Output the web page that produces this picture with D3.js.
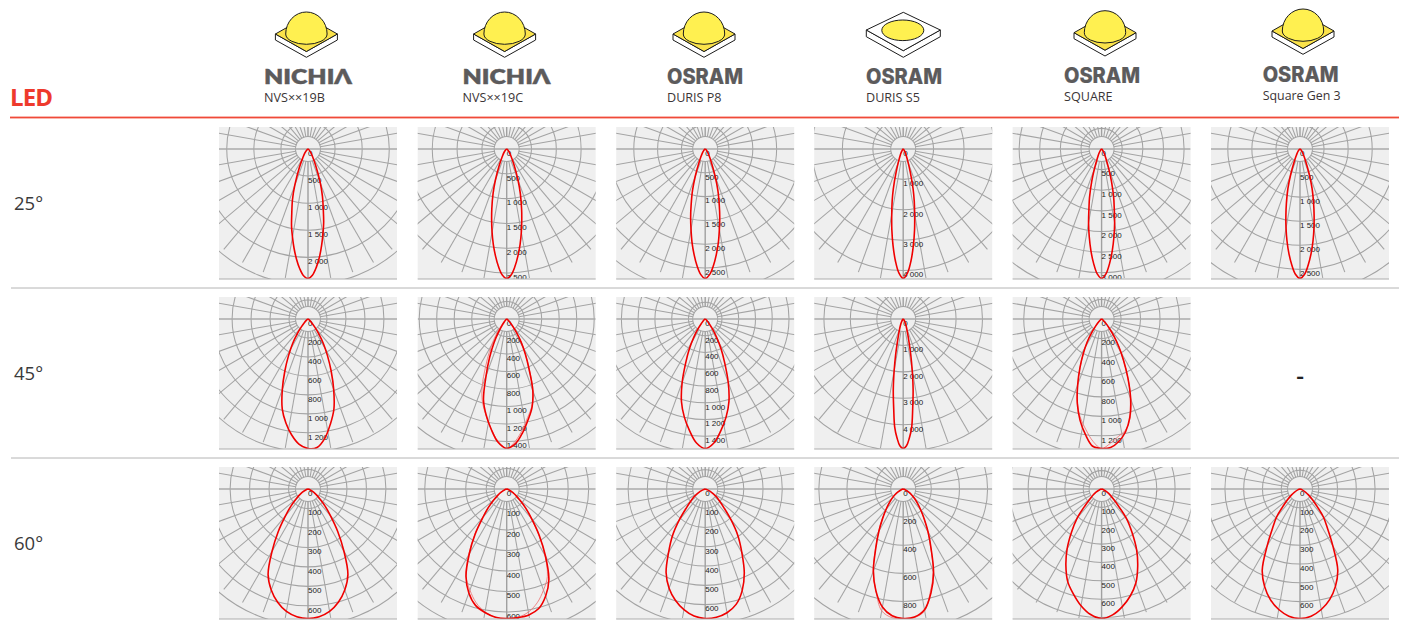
<!DOCTYPE html>
<html>
<head>
<meta charset="utf-8">
<script src="https://cdn.jsdelivr.net/npm/d3@7"></script>
<style>
  html, body { margin: 0; background: #fff; overflow: hidden; }
  svg { display: block; }
</style>
</head>
<body>
<script>
const brands = ['NICHIΛ', 'NICHIΛ', 'OSRAM', 'OSRAM', 'OSRAM', 'OSRAM'];
const models = ['NVS××19B', 'NVS××19C', 'DURIS P8', 'DURIS S5', 'SQUARE', 'Square Gen 3'];
const rowLabels = ['25°', '45°', '60°'];

// angles in degrees from the downward axis, intensities in cd
const angles25 = [0, 2, 4, 6, 8, 10, 12, 14, 17, 20, 25, 30, 40, 60, 90];
const angles45 = [0, 4, 8, 12, 16, 20, 24, 28, 32, 36, 40, 45, 50, 60, 75];
const angles45s5 = [0, 1.5, 3, 4.5, 6, 8, 10, 12, 14, 16, 20, 25, 30, 40, 60, 90];
const angles60 = [0, 5, 10, 15, 20, 25, 30, 35, 40, 45, 50, 55, 60, 70, 90];

const ticks25 = [
  [0, 500, 1000, 1500, 2000],
  [0, 500, 1000, 1500, 2000, 2500],
  [0, 500, 1000, 1500, 2000, 2500],
  [0, 1000, 2000, 3000, 4000],
  [0, 500, 1000, 1500, 2000, 2500, 3000],
  [0, 500, 1000, 1500, 2000, 2500]
];
const ticks45 = [
  [0, 200, 400, 600, 800, 1000, 1200],
  [0, 200, 400, 600, 800, 1000, 1200, 1400],
  [0, 200, 400, 600, 800, 1000, 1200, 1400],
  [0, 1000, 2000, 3000, 4000],
  [0, 200, 400, 600, 800, 1000, 1200]
];
const ticks60 = [
  [0, 100, 200, 300, 400, 500, 600],
  [0, 100, 200, 300, 400, 500, 600],
  [0, 100, 200, 300, 400, 500, 600],
  [0, 200, 400, 600, 800],
  [0, 100, 200, 300, 400, 500, 600],
  [0, 100, 200, 300, 400, 500, 600]
];

const right25 = [
  [2390, 2330, 2190, 2010, 1800, 1590, 1390, 1170, 910, 660, 335, 180, 70, 10, 0],
  [2610, 2540, 2375, 2165, 1940, 1700, 1460, 1240, 940, 665, 340, 185, 73, 10, 0],
  [2720, 2640, 2460, 2230, 1985, 1715, 1470, 1225, 910, 610, 300, 165, 65, 8, 0],
  [4260, 4080, 3685, 3195, 2685, 2170, 1745, 1340, 790, 470, 235, 130, 45, 8, 0],
  [3140, 3030, 2780, 2480, 2150, 1820, 1475, 1210, 815, 500, 235, 140, 50, 6, 0],
  [2690, 2610, 2420, 2190, 1935, 1670, 1410, 1170, 860, 565, 270, 150, 60, 8, 0]
];
const left25 = [
  [2390, 2340, 2210, 2040, 1850, 1650, 1460, 1240, 980, 715, 380, 200, 85, 12, 0],
  right25[1],
  right25[2],
  right25[3],
  right25[4],
  right25[5]
];

const right45 = [
  [1365, 1358, 1270, 1133, 990, 792, 600, 437, 307, 191, 109, 55, 27, 8, 0],
  [1480, 1428, 1310, 1177, 1050, 873, 629, 451, 311, 192, 104, 52, 27, 7, 0],
  [1545, 1483, 1344, 1197, 1027, 803, 572, 402, 255, 147, 77, 34, 19, 5, 0],
  [4900, 4800, 4500, 4100, 3430, 2695, 1960, 1372, 931, 662, 392, 220, 122, 49, 10, 0],
  [1330, 1323, 1270, 1184, 1051, 871, 665, 479, 333, 213, 120, 60, 27, 8, 0]
];
const left45 = [
  [1365, 1325, 1235, 1120, 985, 792, 600, 437, 307, 191, 109, 55, 27, 8, 0],
  [1480, 1413, 1273, 1125, 962, 688, 481, 311, 178, 89, 44, 22, 12, 3, 0],
  right45[2],
  right45[3],
  [1330, 1310, 1197, 1064, 904, 718, 545, 399, 279, 173, 93, 47, 20, 5, 0]
];
// the second, fainter plane where it can be told apart from the first
const thinRight45 = [
  null,
  [1480, 1400, 1280, 1150, 1040, 880, 640, 460, 320, 195, 105, 52, 27, 7, 0],
  null,
  null,
  [1330, 1280, 1220, 1170, 1060, 880, 665, 479, 333, 213, 120, 60, 27, 8, 0]
];
const thinLeft45 = [
  null,
  [1480, 1400, 1270, 1130, 1000, 820, 590, 420, 280, 170, 90, 45, 22, 6, 0],
  null,
  null,
  [1330, 1260, 1150, 1040, 900, 718, 545, 399, 279, 173, 93, 47, 20, 5, 0]
];

const right60 = [
  [665, 658, 638, 602, 552, 485, 369, 266, 180, 124, 80, 53, 33, 10, 0],
  [632, 630, 624, 604, 556, 487, 379, 278, 190, 130, 82, 54, 35, 10, 0],
  [672, 668, 652, 620, 561, 480, 380, 296, 208, 138, 97, 71, 47, 13, 0],
  [921, 914, 872, 764, 631, 470, 355, 262, 193, 143, 106, 74, 46, 14, 0],
  [705, 688, 650, 603, 545, 465, 381, 289, 212, 127, 81, 56, 35, 11, 0],
  [690, 680, 652, 610, 552, 476, 350, 255, 193, 124, 83, 55, 35, 10, 0]
];
const left60 = [
  right60[0],
  [632, 628, 612, 588, 540, 470, 365, 268, 180, 125, 80, 52, 33, 10, 0],
  [672, 662, 636, 598, 548, 480, 380, 296, 208, 138, 97, 71, 47, 13, 0],
  [921, 905, 852, 750, 620, 460, 345, 255, 190, 140, 104, 72, 45, 14, 0],
  [705, 686, 645, 592, 538, 460, 375, 285, 208, 125, 80, 55, 35, 11, 0],
  right60[5]
];
const thin60 = [
  null,
  [632, 628, 610, 575, 525, 470, 372, 272, 185, 128, 81, 53, 34, 10, 0],
  null,
  [921, 918, 880, 750, 625, 465, 350, 258, 191, 141, 105, 73, 45, 14, 0],
  null,
  null
];

const width = 1403, height = 621;
const svg = d3.select('body').append('svg').attr('width', width).attr('height', height);

const colX = [308, 506.7, 705.2, 903.2, 1101.6, 1300];
const rowY = [149, 319, 489];
const halfW = 89, above = 22, below = 130;
const holeR = 12.5, spokeR = 131, peakR = 129.5, ringLimit = 1.13;
const gridColor = '#a3a3a3';
const fmt = d3.formatLocale({ decimal: '.', thousands: ' ', grouping: [3], currency: ['', ''] }).format(',');
const rad = d3.scaleLinear().domain([0, 180]).range([0, Math.PI]);

let clipId = 0;
function polar(cx, cy, series) {
  const g = svg.append('g');
  clipId++;
  svg.append('clipPath').attr('id', 'c' + clipId).append('rect')
     .attr('x', cx - halfW).attr('y', cy - above).attr('width', halfW * 2).attr('height', above + below);

  g.append('rect')
   .attr('x', cx - halfW).attr('y', cy - above).attr('width', halfW * 2).attr('height', above + below)
   .attr('fill', '#efefef');

  const inner = g.append('g').attr('clip-path', 'url(#c' + clipId + ')');
  const plot = inner.append('g').attr('transform', `translate(${cx},${cy})`);

  const peak = d3.max(series.right);
  const r = d3.scaleLinear().domain([0, peak]).range([0, peakR]);
  const step = series.ticks[1] - series.ticks[0];

  plot.selectAll('circle.ring').data(d3.range(step, peak * ringLimit, step)).enter()
      .append('circle').attr('class', 'ring')
      .attr('r', d => r(d)).attr('fill', 'none').attr('stroke', gridColor).attr('stroke-width', 1.05);
  plot.append('circle').attr('r', holeR).attr('fill', '#efefef')
      .attr('stroke', gridColor).attr('stroke-width', 1.05);

  const spokes = d3.range(0, 360, 10).filter(d => d % 90 != 0);
  plot.selectAll('line.spoke').data(spokes).enter()
      .append('line').attr('class', 'spoke')
      .attr('x1', d => holeR * Math.sin(rad(d))).attr('y1', d => holeR * Math.cos(rad(d)))
      .attr('x2', d => spokeR * Math.sin(rad(d))).attr('y2', d => spokeR * Math.cos(rad(d)))
      .attr('stroke', gridColor).attr('stroke-width', 1.05);

  plot.append('line').attr('x1', -halfW).attr('x2', halfW).attr('y1', 0).attr('y2', 0)
      .attr('stroke', '#aaa').attr('stroke-width', 1.6);
  plot.append('line').attr('x1', 0).attr('x2', 0).attr('y1', holeR).attr('y2', below)
      .attr('stroke', '#a0a0a0').attr('stroke-width', 1.4);
  plot.append('line').attr('x1', 0).attr('x2', 0).attr('y1', -above).attr('y2', -holeR)
      .attr('stroke', '#a0a0a0').attr('stroke-width', 1.4);

  plot.append('g').attr('opacity', 0.999).selectAll('text').data(series.ticks).enter()
      .append('text')
      .attr('x', 0).attr('y', d => r(d) + 6.8)
      .attr('font-family', '"Liberation Sans", Arial, sans-serif').attr('font-size', '8px')
      .attr('fill', '#222')
      .text(d => fmt(d));

  // both halves of a plane joined at the bottom of the diagram
  const line = d3.lineRadial().curve(d3.curveCatmullRom.alpha(0.5))
                 .angle(d => Math.PI - rad(d[0])).radius(d => r(d[1]));
  const outline = (ri, le) => {
    const pts = series.angles.map((a, i) => [a, ri[i]]);
    const back = series.angles.map((a, i) => [-a, le[i]]).slice(1).reverse();
    return line(back.concat(pts));
  };
  if (series.thinRight) {
    plot.append('path').attr('d', outline(series.thinRight, series.thinLeft))
        .attr('fill', 'none').attr('stroke', '#ee7a7a').attr('stroke-width', 0.9);
  }
  plot.append('path').attr('d', outline(series.right, series.left))
      .attr('fill', 'none').attr('stroke', '#f00000').attr('stroke-width', 1.6);

  g.append('line')
   .attr('x1', cx - halfW).attr('x2', cx + halfW).attr('y1', cy + below).attr('y2', cy + below)
   .attr('stroke', '#acacac').attr('stroke-width', 1);
}

ticks25.forEach((t, i) => polar(colX[i], rowY[0], { ticks: t, angles: angles25, right: right25[i], left: left25[i] }));
ticks45.forEach((t, i) => polar(colX[i], rowY[1], {
  ticks: t, angles: i == 3 ? angles45s5 : angles45, right: right45[i], left: left45[i],
  thinRight: thinRight45[i], thinLeft: thinLeft45[i]
}));
ticks60.forEach((t, i) => polar(colX[i], rowY[2], {
  ticks: t, angles: angles60, right: right60[i], left: left60[i],
  thinRight: thin60[i], thinLeft: thin60[i]
}));

svg.append('text').attr('x', 1300).attr('y', 384).attr('text-anchor', 'middle')
   .attr('font-family', '"Open Sans", sans-serif').attr('font-weight', 600).attr('font-size', '24px').attr('fill', '#222').text('-');

// header and separators
svg.append('rect').attr('x', 10).attr('y', 116.6).attr('width', 1389).attr('height', 1.8).attr('fill', '#f04a38');
[288, 458].forEach(y => svg.append('line').attr('x1', 11).attr('x2', 1399).attr('y1', y).attr('y2', y)
   .attr('stroke', '#b4b4b4').attr('stroke-width', 1));

svg.append('text').attr('x', 10).attr('y', 106)
   .attr('font-family', '"Open Sans", sans-serif').attr('font-weight', 700).attr('font-size', '24px')
   .attr('fill', '#ee3a2c').attr('textLength', 43).text('LED');

rowLabels.forEach((d, i) => svg.append('text').attr('x', 14).attr('y', rowY[i] + 61)
   .attr('font-family', '"Open Sans", sans-serif').attr('font-size', '18.5px').attr('fill', '#3a3a3a').text(d));

// LED package drawings
const brandX = [264, 462.5, 667, 866, 1064, 1262.7];
const brandBase = [84, 84, 84, 84, 83, 82];
const iconX = [306.4, 504.6, 704, 903.3, 1105, 1303];
const iconDy = [0, 0, 0, 0, -1.3, -3];
const ink = '#1c1c1c';

function domeIcon(cx, dy) {
  const g = svg.append('g').attr('transform', `translate(${cx},${dy})`);
  const sw = 1;
  g.append('path').attr('d', 'M-31,34 L-31,40 L0,57.3 L31,40 L31,34 L0,51.5 Z')
   .attr('fill', '#fff').attr('stroke', ink).attr('stroke-width', sw).attr('stroke-linejoin', 'round');
  g.append('path').attr('d', 'M-31,34 L0,16.5 L31,34 L0,51.5 Z')
   .attr('fill', '#fbe34a').attr('stroke', ink).attr('stroke-width', sw).attr('stroke-linejoin', 'round');
  g.append('path').attr('d', 'M-20.7,34 A20.7,22 0 0 1 20.7,34 A20.7,10.3 0 0 1 -20.7,34 Z')
   .attr('fill', '#fff050').attr('stroke', ink).attr('stroke-width', sw);
}
function flatIcon(cx) {
  const g = svg.append('g').attr('transform', `translate(${cx},0)`);
  g.append('path').attr('d', 'M-37,30 L-37,36.7 L0,57.3 L37,36.7 L37,30 L0,50.7 Z')
   .attr('fill', '#fff').attr('stroke', ink).attr('stroke-width', 1).attr('stroke-linejoin', 'round');
  g.append('path').attr('d', 'M-37,30 L0,12.3 L37,30 L0,50.7 Z')
   .attr('fill', '#fff').attr('stroke', ink).attr('stroke-width', 1).attr('stroke-linejoin', 'round');
  g.append('ellipse').attr('cx', -0.5).attr('cy', 30.3).attr('rx', 21).attr('ry', 10.3)
   .attr('fill', '#fff050').attr('stroke', ink).attr('stroke-width', 1);
}

models.forEach((m, i) => {
  if (i == 3) flatIcon(iconX[i]); else domeIcon(iconX[i], iconDy[i]);

  const isOsram = brands[i] == 'OSRAM';
  svg.append('text').attr('x', brandX[i]).attr('y', brandBase[i])
     .attr('font-family', isOsram ? 'Inter, sans-serif' : 'Lato, sans-serif')
     .attr('font-weight', 800).attr('font-size', isOsram ? '21.5px' : '21.5px')
     .attr('fill', '#5c5b5c').attr('stroke', '#5c5b5c').attr('stroke-width', isOsram ? 0.2 : 0.4)
     .attr('textLength', isOsram ? 76 : 88).attr('lengthAdjust', 'spacingAndGlyphs')
     .text(brands[i]);

  svg.append('text').attr('x', brandX[i]).attr('y', brandBase[i] + 18.2)
     .attr('font-family', '"Open Sans", sans-serif').attr('font-size', i == 5 ? '12.4px' : '12.6px')
     .attr('fill', '#3b3536').text(m);
});
</script>
</body>
</html>
